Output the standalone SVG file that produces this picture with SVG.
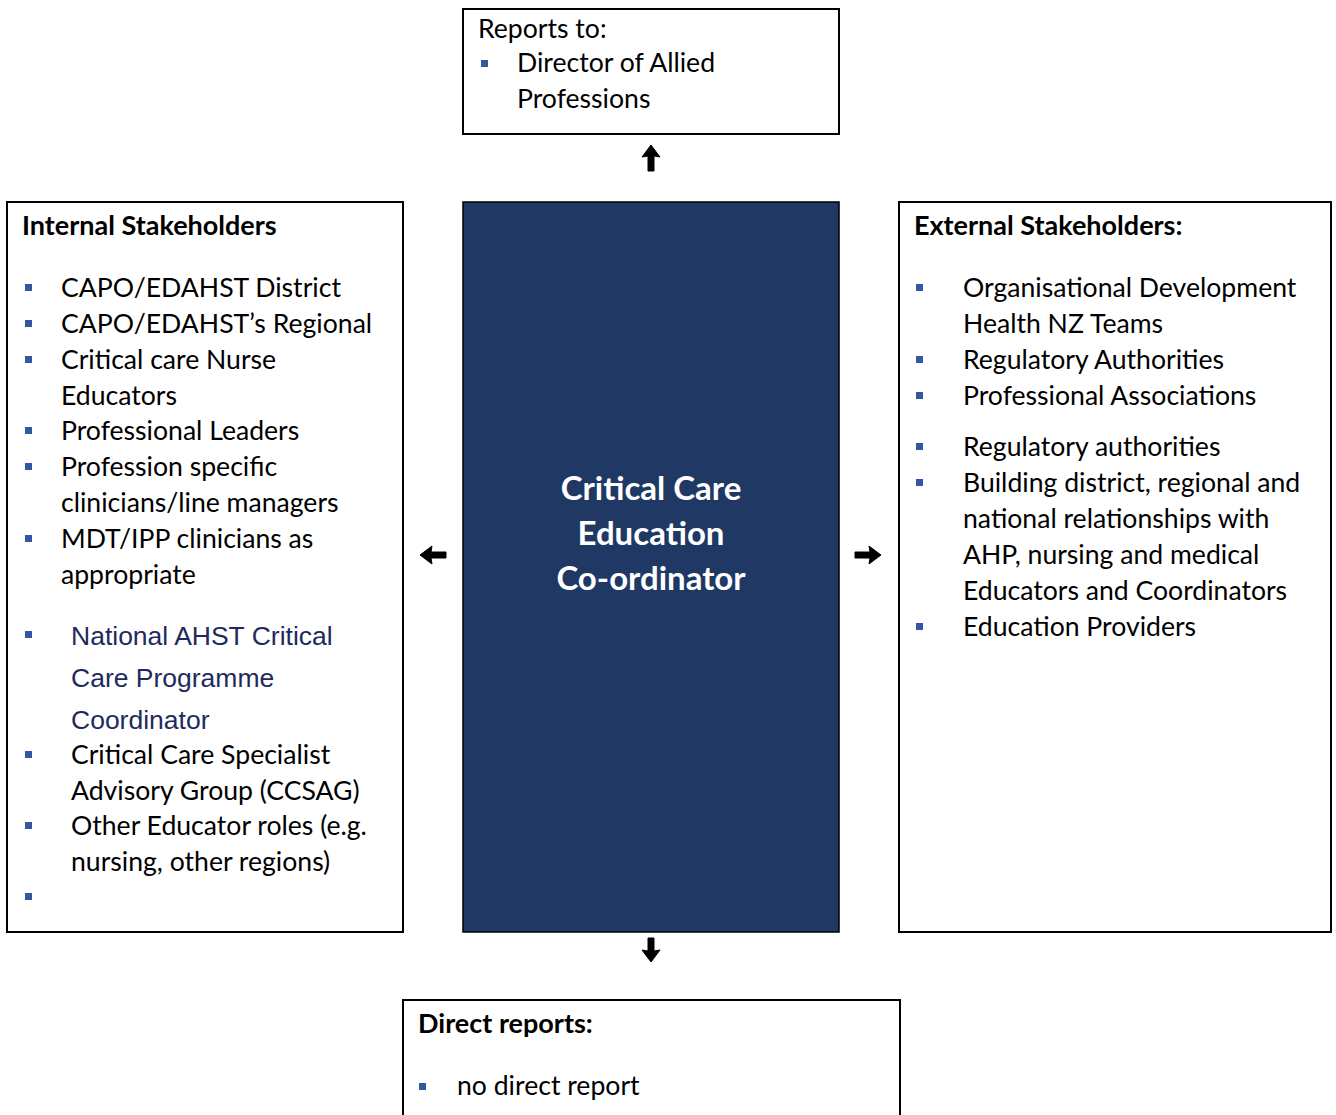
<svg xmlns="http://www.w3.org/2000/svg" width="1336" height="1115" viewBox="0 0 1336 1115">
  <style>
    .box { fill: #ffffff; stroke: #000000; stroke-width: 2; }
    .core { fill: #203864; stroke: #000000; stroke-width: 1.5; }
    .t { font-family: Lato, "Open Sans", sans-serif; font-size: 26.6px; fill: #000000; }
    .h { font-family: Lato, "Open Sans", sans-serif; font-size: 27px; font-weight: bold; fill: #000000; }
    .a { font-family: "Liberation Sans", Arial, sans-serif; font-size: 26.5px; fill: #1f2a5c; }
    .title { font-family: Lato, "Open Sans", sans-serif; font-size: 33px; font-weight: bold; fill: #ffffff; text-anchor: middle; }
    .b { fill: #3158a0; }
    .arrow { fill: #000000; stroke: #000000; stroke-width: 1; stroke-linejoin: miter; }
  </style>
  <defs>
    <rect id="bullet" class="b" width="7" height="7"/>
  </defs>

  <!-- reporting line -->
  <g id="reports-to">
    <rect class="box" x="463" y="9" width="376" height="125"/>
    <text class="t" x="478" y="38">Reports to:</text>
    <use href="#bullet" x="481" y="60"/>
    <text class="t" x="517" y="72">Director of Allied</text>
    <text class="t" x="517" y="108">Professions</text>
  </g>

  <!-- internal stakeholders -->
  <g id="internal">
    <rect class="box" x="7" y="202" width="396" height="730"/>
    <text class="h" x="22" y="235">Internal Stakeholders</text>
    <use href="#bullet" x="25" y="284"/>
    <text class="t" x="61" y="297">CAPO/EDAHST District</text>
    <use href="#bullet" x="25" y="320"/>
    <text class="t" x="61" y="333">CAPO/EDAHST’s Regional</text>
    <use href="#bullet" x="25" y="356"/>
    <text class="t" x="61" y="369">Critical care Nurse</text>
    <text class="t" x="61" y="405">Educators</text>
    <use href="#bullet" x="25" y="427"/>
    <text class="t" x="61" y="440">Professional Leaders</text>
    <use href="#bullet" x="25" y="463"/>
    <text class="t" x="61" y="476">Profession specific</text>
    <text class="t" x="61" y="512">clinicians/line managers</text>
    <use href="#bullet" x="25" y="535"/>
    <text class="t" x="61" y="548">MDT/IPP clinicians as</text>
    <text class="t" x="61" y="584">appropriate</text>
    <use href="#bullet" x="25" y="631"/>
    <text class="a" x="71" y="645">National AHST Critical</text>
    <text class="a" x="71" y="687">Care Programme</text>
    <text class="a" x="71" y="729">Coordinator</text>
    <use href="#bullet" x="25" y="751"/>
    <text class="t" x="71" y="764">Critical Care Specialist</text>
    <text class="t" x="71" y="800">Advisory Group (CCSAG)</text>
    <use href="#bullet" x="25" y="822"/>
    <text class="t" x="71" y="835">Other Educator roles (e.g.</text>
    <text class="t" x="71" y="871">nursing, other regions)</text>
    <use href="#bullet" x="25" y="893"/>
  </g>

  <!-- role -->
  <g id="role">
    <rect class="core" x="463" y="202" width="376" height="730"/>
    <text class="title" x="651" y="500">Critical Care</text>
    <text class="title" x="651" y="545">Education</text>
    <text class="title" x="651" y="590">Co-ordinator</text>
  </g>

  <!-- external stakeholders -->
  <g id="external">
    <rect class="box" x="899" y="202" width="432" height="730"/>
    <text class="h" x="914" y="235">External Stakeholders:</text>
    <use href="#bullet" x="916" y="284"/>
    <text class="t" x="963" y="297">Organisational Development</text>
    <text class="t" x="963" y="333">Health NZ Teams</text>
    <use href="#bullet" x="916" y="356"/>
    <text class="t" x="963" y="369">Regulatory Authorities</text>
    <use href="#bullet" x="916" y="392"/>
    <text class="t" x="963" y="405">Professional Associations</text>
    <use href="#bullet" x="916" y="443"/>
    <text class="t" x="963" y="456">Regulatory authorities</text>
    <use href="#bullet" x="916" y="479"/>
    <text class="t" x="963" y="492">Building district, regional and</text>
    <text class="t" x="963" y="528">national relationships with</text>
    <text class="t" x="963" y="564">AHP, nursing and medical</text>
    <text class="t" x="963" y="600">Educators and Coordinators</text>
    <use href="#bullet" x="916" y="623"/>
    <text class="t" x="963" y="636">Education Providers</text>
  </g>

  <!-- direct reports -->
  <g id="direct-reports">
    <rect class="box" x="403" y="1000" width="497" height="130"/>
    <text class="h" x="418" y="1033">Direct reports:</text>
    <use href="#bullet" x="419" y="1083"/>
    <text class="t" x="457" y="1095">no direct report</text>
  </g>

  <!-- connectors: bold block arrows -->
  <g id="connectors">
    <path class="arrow" d="M651,145 L660,157 L654,156 L654,171 L648,171 L648,156 L642,157 Z"/>
    <path class="arrow" d="M651,962 L660,950 L654,951 L654,938 L648,938 L648,951 L642,950 Z"/>
    <path class="arrow" d="M420,555 L432,546 L431,552 L446,552 L446,558 L431,558 L432,564 Z"/>
    <path class="arrow" d="M881,555 L869,546 L870,552 L855,552 L855,558 L870,558 L869,564 Z"/>
  </g>
</svg>
